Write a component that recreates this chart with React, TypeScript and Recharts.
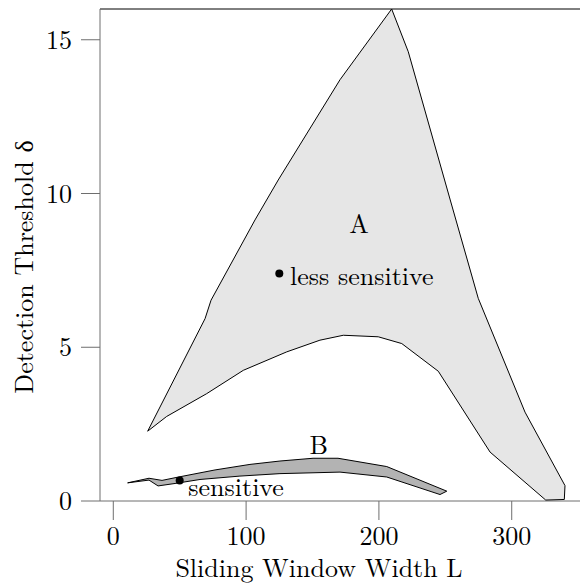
import { ScatterChart, Scatter, XAxis, YAxis, ReferenceLine } from "recharts";

// region A outline (upper edge left→right, then lower edge right→left)
const regionA = [
  { x: 25.9, y: 2.27 },
  { x: 69.1, y: 5.93 },
  { x: 73.6, y: 6.53 },
  { x: 106.7, y: 9.14 },
  { x: 124.2, y: 10.44 },
  { x: 170.7, y: 13.7 },
  { x: 209.6, y: 16.0 },
  { x: 222.1, y: 14.61 },
  { x: 253.7, y: 9.79 },
  { x: 274.8, y: 6.59 },
  { x: 310.0, y: 2.89 },
  { x: 340.1, y: 0.5 },
  { x: 339.6, y: 0.05 },
  { x: 325.6, y: 0.03 },
  { x: 283.7, y: 1.59 },
  { x: 244.7, y: 4.22 },
  { x: 217.2, y: 5.12 },
  { x: 199.5, y: 5.34 },
  { x: 173.2, y: 5.39 },
  { x: 155.6, y: 5.23 },
  { x: 130.6, y: 4.85 },
  { x: 97.9, y: 4.25 },
  { x: 70.3, y: 3.49 },
  { x: 40.2, y: 2.75 },
];

// region B outline
const regionB = [
  { x: 10.8, y: 0.59 },
  { x: 26.9, y: 0.74 },
  { x: 36.7, y: 0.67 },
  { x: 48.0, y: 0.77 },
  { x: 76.6, y: 1.01 },
  { x: 102.9, y: 1.19 },
  { x: 125.5, y: 1.3 },
  { x: 150.4, y: 1.39 },
  { x: 169.2, y: 1.39 },
  { x: 205.9, y: 1.12 },
  { x: 251.1, y: 0.32 },
  { x: 246.0, y: 0.21 },
  { x: 205.9, y: 0.78 },
  { x: 170.7, y: 0.94 },
  { x: 125.5, y: 0.89 },
  { x: 95.4, y: 0.81 },
  { x: 65.3, y: 0.7 },
  { x: 46.5, y: 0.57 },
  { x: 33.7, y: 0.49 },
  { x: 26.9, y: 0.68 },
];

const markedPoints = [
  { x: 125, y: 7.4 },
  { x: 50, y: 0.67 },
];

const pointLabels = [
  { x: 133.1, y: 7.02, name: "less sensitive" },
  { x: 56.5, y: 0.16, name: "sensitive" },
];

const regionLabels = [
  { x: 185.0, y: 8.7, name: "A" },
  { x: 154.7, y: 1.53, name: "B" },
];

const xTicks = [0, 100, 200, 300];
const yTicks = [0, 5, 10, 15];

const FONT = '"Latin Modern Roman", "Liberation Serif", "DejaVu Serif"';
const FONT_SIZE = 26;
const AXIS_GRAY = "#6e6e6e";
const textStyle = { fontFamily: FONT };

/* eslint-disable @typescript-eslint/no-explicit-any */
function polygonLine(fill: string) {
  return (props: any) => (
    <polygon
      points={(props.points || []).map((p: any) => `${p.x},${p.y}`).join(" ")}
      fill={fill}
      stroke="#000"
      strokeWidth={1}
      strokeLinejoin="miter"
    />
  );
}

const noShape = () => <g />;
/* eslint-enable @typescript-eslint/no-explicit-any */

export default function App() {
  return (
    <div style={{ position: "absolute", left: 0, top: 0, background: "#fff" }}>
      <ScatterChart width={580} height={587} margin={{ top: 9, right: 0, bottom: 0, left: 0 }} style={textStyle}>
        <XAxis
          type="number"
          dataKey="x"
          domain={[-10, 351.4]}
          ticks={xTicks}
          allowDataOverflow
          height={86}
          tickSize={19}
          tickMargin={7}
          stroke={AXIS_GRAY}
          tick={{ fontSize: FONT_SIZE, fill: "#000", style: textStyle }}
          label={{
            content: () => (
              <text x={319} y={577} textAnchor="middle" fontSize={FONT_SIZE} fill="#000" style={textStyle}>
                Sliding Window Width L
              </text>
            ),
          }}
        />
        <YAxis
          type="number"
          dataKey="y"
          domain={[0, 16]}
          ticks={yTicks}
          allowDataOverflow
          width={100}
          tickSize={19}
          tickMargin={9}
          stroke={AXIS_GRAY}
          tick={{ fontSize: FONT_SIZE, fill: "#000", style: textStyle }}
          label={{
            content: () => (
              <text
                x={33}
                y={267}
                transform="rotate(-90, 33, 267)"
                textAnchor="middle"
                fontSize={FONT_SIZE}
                fill="#000"
                style={textStyle}
              >
                Detection Threshold δ
              </text>
            ),
          }}
        />
        <ReferenceLine y={16} stroke="#000" strokeWidth={1} />
        <Scatter data={regionA} isAnimationActive={false} shape={noShape} line={polygonLine("#e6e6e6")} />
        <Scatter data={regionB} isAnimationActive={false} shape={noShape} line={polygonLine("#b3b3b3")} />
        <Scatter
          data={markedPoints}
          isAnimationActive={false}
          shape={(p: any) => <circle cx={p.cx} cy={p.cy} r={4} fill="#000" />}
        />
        <Scatter
          data={pointLabels}
          isAnimationActive={false}
          shape={(p: any) => (
            <text x={p.cx} y={p.cy} textAnchor="start" fontSize={FONT_SIZE} fill="#000" style={textStyle}>
              {p.payload.name}
            </text>
          )}
        />
        <Scatter
          data={regionLabels}
          isAnimationActive={false}
          shape={(p: any) => (
            <text x={p.cx} y={p.cy} textAnchor="middle" fontSize={FONT_SIZE} fill="#000" style={textStyle}>
              {p.payload.name}
            </text>
          )}
        />
      </ScatterChart>
    </div>
  );
}
